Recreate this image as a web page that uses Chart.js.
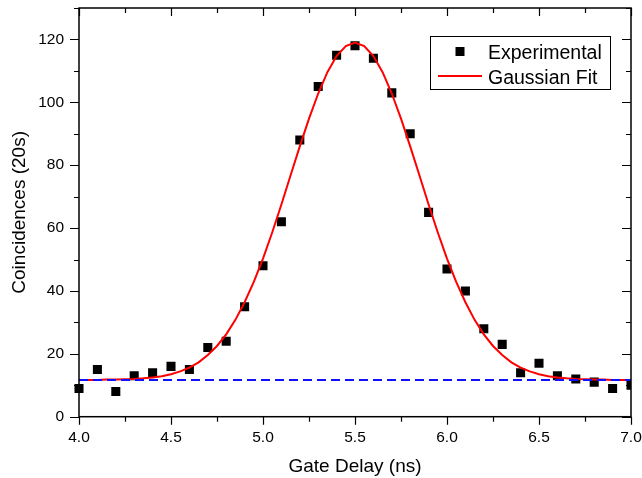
<!DOCTYPE html>
<html lang="en">
<head>
    <meta charset="UTF-8">
    <title>Gate Delay Coincidences</title>
    <script src="https://cdn.jsdelivr.net/npm/chart.js"></script>
    <style>
        body { margin: 0; background: #fff; }
        #chart { display: block; }
    </style>
</head>
<body>
<canvas id="chart" width="642" height="478"></canvas>

<script>
// measured points (coincidences per 20 s)
const gateDelay = [4.0, 4.1, 4.2, 4.3, 4.4, 4.5, 4.6, 4.7, 4.8, 4.9, 5.0,
                   5.1, 5.2, 5.3, 5.4, 5.5, 5.6, 5.7, 5.8, 5.9, 6.0,
                   6.1, 6.2, 6.3, 6.4, 6.5, 6.6, 6.7, 6.8, 6.9, 7.0];
const counts = [9, 15, 8, 13, 14, 16, 15, 22, 24, 35, 48,
                62, 88, 105, 115, 118, 114, 103, 90, 65, 47,
                40, 28, 23, 14, 17, 13, 12, 11, 9, 10];

// gaussian fit curve
const fitDelay = [4.00, 4.05, 4.10, 4.15, 4.20, 4.25, 4.30, 4.35, 4.40, 4.45,
                  4.50, 4.55, 4.60, 4.65, 4.70, 4.75, 4.80, 4.85, 4.90, 4.95,
                  5.00, 5.05, 5.10, 5.15, 5.20, 5.25, 5.30, 5.35, 5.40, 5.45,
                  5.50, 5.55, 5.60, 5.65, 5.70, 5.75, 5.80, 5.85, 5.90, 5.95,
                  6.00, 6.05, 6.10, 6.15, 6.20, 6.25, 6.30, 6.35, 6.40, 6.45,
                  6.50, 6.55, 6.60, 6.65, 6.70, 6.75, 6.80, 6.85, 6.90, 6.95, 7.00];
const fitCounts = [11.7, 11.7, 11.7, 11.8, 11.8, 11.9, 12.0, 12.2, 12.5, 12.9,
                   13.5, 14.4, 15.6, 17.3, 19.6, 22.5, 26.2, 30.8, 36.4, 42.9,
                   50.3, 58.6, 67.5, 76.8, 86.0, 94.8, 102.8, 109.6, 114.7, 117.9,
                   119.0, 117.9, 114.7, 109.6, 102.8, 94.8, 86.0, 76.8, 67.5, 58.6,
                   50.3, 42.9, 36.4, 30.8, 26.2, 22.5, 19.6, 17.3, 15.6, 14.4,
                   13.5, 12.9, 12.5, 12.2, 12.0, 11.9, 11.8, 11.8, 11.7, 11.7, 11.7];

// background level (blue dashed)
const baselineX = [4.0, 7.0];
const baselineY = [11.7, 11.7];

// axis ticks
const xMin = 4.0, xMax = 7.0, xMajor = 0.5, xMinor = 0.25;
const yMin = 0, yMax = 130, yMajor = 20, yMinor = 10;

const FONT = "'Liberation Sans', Arial, sans-serif";

function pairs(xs, ys) {
    return xs.map((x, i) => ({ x: x, y: ys[i] }));
}

// frame with Origin-style ticks: outward on bottom/left, inward on top/right
const framePlugin = {
    id: 'frame',
    afterDraw(chart) {
        const ctx = chart.ctx;
        const a = chart.chartArea;
        const xs = chart.scales.x, ys = chart.scales.y;
        ctx.save();
        ctx.strokeStyle = '#000';
        ctx.lineWidth = 1.5;
        ctx.strokeRect(a.left, a.top, a.right - a.left, a.bottom - a.top);
        ctx.lineWidth = 1.2;
        ctx.beginPath();
        for (let v = xMin; v <= xMax + 1e-9; v += xMinor) {
            const px = Math.round(xs.getPixelForValue(v)) + 0.5;
            const major = Math.abs(v / xMajor - Math.round(v / xMajor)) < 1e-6;
            const len = major ? 8 : 5;
            ctx.moveTo(px, a.bottom); ctx.lineTo(px, a.bottom + len);
            ctx.moveTo(px, a.top); ctx.lineTo(px, a.top + len);
        }
        for (let v = yMin; v <= yMax + 1e-9; v += yMinor) {
            const py = Math.round(ys.getPixelForValue(v)) + 0.5;
            const major = v % yMajor === 0;
            const len = major ? 9 : 5;
            ctx.moveTo(a.left, py); ctx.lineTo(a.left - len, py);
            ctx.moveTo(a.right, py); ctx.lineTo(a.right - len, py);
        }
        ctx.stroke();

        // legend box
        const ds = chart.data.datasets;
        const bx = 430.5, by = 36.5, bw = 180, bh = 53;
        ctx.fillStyle = '#fff';
        ctx.fillRect(bx, by, bw, bh);
        ctx.lineWidth = 1;
        ctx.strokeStyle = '#000';
        ctx.strokeRect(bx, by, bw, bh);
        ctx.fillStyle = ds[0].backgroundColor;
        ctx.fillRect(455.5, 47, 9, 9);
        ctx.strokeStyle = ds[1].borderColor;
        ctx.lineWidth = 2;
        ctx.beginPath();
        ctx.moveTo(438, 76); ctx.lineTo(482, 76);
        ctx.stroke();
        ctx.fillStyle = '#000';
        ctx.font = '19.5px ' + FONT;
        ctx.textBaseline = 'alphabetic';
        ctx.textAlign = 'left';
        ctx.fillText(ds[0].label, 488, 58.5);
        ctx.fillText(ds[1].label, 488, 83.5);
        ctx.restore();
    }
};

new Chart(document.getElementById('chart'), {
    type: 'scatter',
    data: {
        datasets: [{
            label: 'Experimental',
            data: pairs(gateDelay, counts),
            backgroundColor: '#000',
            borderWidth: 0,
            pointStyle: 'rect',
            pointRadius: 6.4,
            clip: { left: 8, top: 8, right: 0, bottom: 8 },
            order: 3
        }, {
            label: 'Gaussian Fit',
            data: pairs(fitDelay, fitCounts),
            showLine: true,
            borderColor: '#ff0000',
            borderWidth: 2,
            pointRadius: 0,
            tension: 0,
            order: 2
        }, {
            label: 'Baseline',
            data: pairs(baselineX, baselineY),
            showLine: true,
            borderColor: '#1010ff',
            borderWidth: 2,
            borderDash: [9, 5],
            pointRadius: 0,
            order: 1
        }]
    },
    options: {
        responsive: false,
        animation: false,
        layout: { padding: { top: 8, right: 11, left: 0, bottom: 0 } },
        plugins: {
            legend: { display: false },
            tooltip: { enabled: false }
        },
        scales: {
            x: {
                type: 'linear',
                min: xMin,
                max: xMax,
                afterFit: s => { s.height = 61.3; s.paddingLeft = 0; s.paddingRight = 0; },
                grid: { display: false, drawTicks: false },
                border: { display: false },
                ticks: {
                    stepSize: xMajor,
                    padding: 12,
                    color: '#000',
                    font: { family: FONT, size: 15.5 },
                    callback: v => v.toFixed(1)
                },
                title: {
                    display: true,
                    text: 'Gate Delay (ns)',
                    color: '#000',
                    font: { family: FONT, size: 19 },
                    padding: { top: 0, bottom: 0 }
                }
            },
            y: {
                min: yMin,
                max: yMax,
                afterFit: s => { s.width = 79; s.paddingTop = 0; s.paddingBottom = 0; },
                grid: { display: false, drawTicks: false },
                border: { display: false },
                ticks: {
                    stepSize: yMajor,
                    includeBounds: false,
                    padding: 15,
                    color: '#000',
                    font: { family: FONT, size: 15.5 }
                },
                title: {
                    display: true,
                    text: 'Coincidences (20s)',
                    color: '#000',
                    font: { family: FONT, size: 19 },
                    padding: { top: 8.6, bottom: 0 }
                }
            }
        }
    },
    plugins: [framePlugin]
});
</script>
</body>
</html>
